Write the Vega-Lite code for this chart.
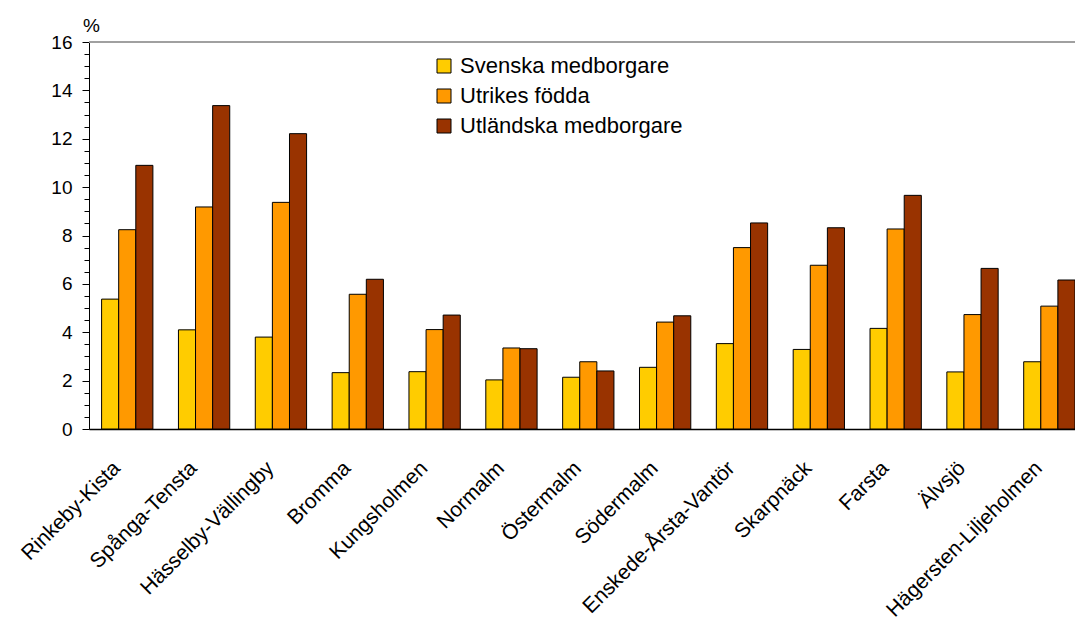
{
  "$schema": "https://vega.github.io/schema/vega-lite/v6.json",
  "autosize": {"type": "none"},
  "padding": {"left": 89, "top": 42, "right": 0, "bottom": 197},
  "width": 986,
  "height": 387,
  "background": "white",
  "config": {
    "view": {"stroke": null},
    "font": "Liberation Sans",
    "axis": {"grid": false, "labelColor": "black", "titleColor": "black", "domainColor": "black", "tickColor": "black"}
  },
  "data": {
    "values": [
      {"d": "Rinkeby-Kista", "s": "Svenska medborgare", "v": 5.37},
      {"d": "Rinkeby-Kista", "s": "Utrikes födda", "v": 8.24},
      {"d": "Rinkeby-Kista", "s": "Utländska medborgare", "v": 10.9},
      {"d": "Spånga-Tensta", "s": "Svenska medborgare", "v": 4.1},
      {"d": "Spånga-Tensta", "s": "Utrikes födda", "v": 9.18},
      {"d": "Spånga-Tensta", "s": "Utländska medborgare", "v": 13.37},
      {"d": "Hässelby-Vällingby", "s": "Svenska medborgare", "v": 3.8},
      {"d": "Hässelby-Vällingby", "s": "Utrikes födda", "v": 9.37},
      {"d": "Hässelby-Vällingby", "s": "Utländska medborgare", "v": 12.21},
      {"d": "Bromma", "s": "Svenska medborgare", "v": 2.33},
      {"d": "Bromma", "s": "Utrikes födda", "v": 5.57},
      {"d": "Bromma", "s": "Utländska medborgare", "v": 6.19},
      {"d": "Kungsholmen", "s": "Svenska medborgare", "v": 2.37},
      {"d": "Kungsholmen", "s": "Utrikes födda", "v": 4.11},
      {"d": "Kungsholmen", "s": "Utländska medborgare", "v": 4.71},
      {"d": "Normalm", "s": "Svenska medborgare", "v": 2.03},
      {"d": "Normalm", "s": "Utrikes födda", "v": 3.35},
      {"d": "Normalm", "s": "Utländska medborgare", "v": 3.32},
      {"d": "Östermalm", "s": "Svenska medborgare", "v": 2.14},
      {"d": "Östermalm", "s": "Utrikes födda", "v": 2.78},
      {"d": "Östermalm", "s": "Utländska medborgare", "v": 2.4},
      {"d": "Södermalm", "s": "Svenska medborgare", "v": 2.55},
      {"d": "Södermalm", "s": "Utrikes födda", "v": 4.42},
      {"d": "Södermalm", "s": "Utländska medborgare", "v": 4.68},
      {"d": "Enskede-Årsta-Vantör", "s": "Svenska medborgare", "v": 3.53},
      {"d": "Enskede-Årsta-Vantör", "s": "Utrikes födda", "v": 7.5},
      {"d": "Enskede-Årsta-Vantör", "s": "Utländska medborgare", "v": 8.52},
      {"d": "Skarpnäck", "s": "Svenska medborgare", "v": 3.29},
      {"d": "Skarpnäck", "s": "Utrikes födda", "v": 6.77},
      {"d": "Skarpnäck", "s": "Utländska medborgare", "v": 8.32},
      {"d": "Farsta", "s": "Svenska medborgare", "v": 4.16},
      {"d": "Farsta", "s": "Utrikes födda", "v": 8.27},
      {"d": "Farsta", "s": "Utländska medborgare", "v": 9.66},
      {"d": "Älvsjö", "s": "Svenska medborgare", "v": 2.36},
      {"d": "Älvsjö", "s": "Utrikes födda", "v": 4.73},
      {"d": "Älvsjö", "s": "Utländska medborgare", "v": 6.64},
      {"d": "Hägersten-Liljeholmen", "s": "Svenska medborgare", "v": 2.78},
      {"d": "Hägersten-Liljeholmen", "s": "Utrikes födda", "v": 5.08},
      {"d": "Hägersten-Liljeholmen", "s": "Utländska medborgare", "v": 6.16}
    ]
  },
  "layer": [
    {
      "mark": {"type": "bar", "stroke": "black", "strokeWidth": 1},
      "encoding": {
        "x": {
          "field": "d", "type": "nominal", "sort": null,
          "scale": {"paddingInner": 0.3324, "paddingOuter": 0.082, "align": 1},
          "axis": {
            "title": null, "ticks": false, "labelAngle": -45, "labelAlign": "right", "labelBaseline": "top",
            "labelPadding": 28, "labelOffset": -18, "labelFontSize": 21, "labelOverlap": false, "labelBound": false,
            "labelLimit": 0, "domainColor": "black", "domainWidth": 1.5
          }
        },
        "xOffset": {
          "field": "s", "type": "nominal",
          "sort": ["Svenska medborgare", "Utrikes födda", "Utländska medborgare"],
          "scale": {"paddingInner": 0, "paddingOuter": 0}
        },
        "y": {
          "field": "v", "type": "quantitative",
          "scale": {"domain": [0, 16], "nice": false},
          "axis": {
            "values": [0, 2, 4, 6, 8, 10, 12, 14, 16], "tickSize": 7, "labelPadding": 10, "labelFontSize": 19,
            "title": "%", "titleAngle": 0, "titleX": 2, "titleY": -11, "titleAlign": "center",
            "titleBaseline": "alphabetic", "titleFontSize": 19, "titleFontWeight": "normal"
          }
        },
        "color": {
          "field": "s", "type": "nominal",
          "sort": ["Svenska medborgare", "Utrikes födda", "Utländska medborgare"],
          "scale": {"range": ["#FFCC00", "#FF9900", "#993300"]},
          "legend": {
            "title": null, "orient": "none", "legendX": 344, "legendY": 13, "padding": 0,
            "symbolType": "square", "symbolSize": 196, "symbolStrokeColor": "black", "symbolStrokeWidth": 1,
            "labelFontSize": 22, "labelOffset": 5, "rowPadding": 8, "labelColor": "black", "labelLimit": 0
          }
        }
      }
    },
    {
      "mark": {"type": "rule", "color": "#a0a0a0", "strokeWidth": 1.5},
      "encoding": {
        "y": {
          "datum": 16, "type": "quantitative",
          "axis": {
            "orient": "left", "values": [0.5, 1, 1.5, 2, 2.5, 3, 3.5, 4, 4.5, 5, 5.5, 6, 6.5, 7, 7.5, 8, 8.5, 9, 9.5, 10, 10.5, 11, 11.5, 12, 12.5, 13, 13.5, 14, 14.5, 15, 15.5],
            "tickSize": 5, "labels": false, "domain": false, "title": null
          }
        }
      }
    }
  ],
  "resolve": {"axis": {"y": "independent"}}
}
